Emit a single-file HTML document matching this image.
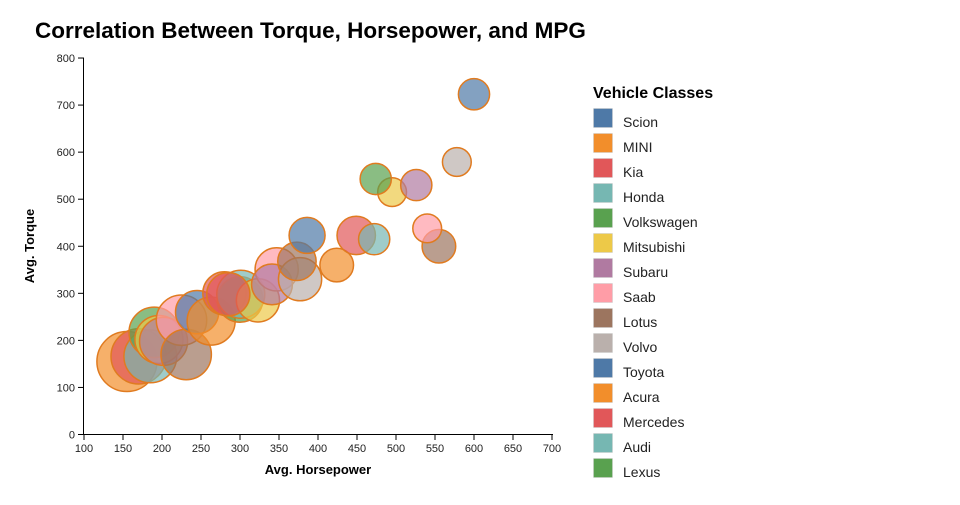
<!DOCTYPE html>
<html><head><meta charset="utf-8"><style>
body{margin:0;background:#fff;font-family:"Liberation Sans",sans-serif}
</style></head><body>
<svg id="c" width="960" height="500" xmlns="http://www.w3.org/2000/svg">
<text x="35" y="38" font-size="22.5" font-weight="bold" fill="#000">Correlation Between Torque, Horsepower, and MPG</text>
<g id="axes"></g><g id="pts"></g><g id="legend"></g>
</svg>
<script>
const hp=[155,170,185,190,196,202,225,231,245,263,280,300,301,323,347,341,377,373,386,424,449,472,555,540,495,474,526,578,600,285];
const tq=[155,166,166,217,202,198,243,170,260,241,300,287,298,285,351,319,330,368,423,360,423,415,400,438,515,543,530,579,723,298];
const mpg=[25,23,22,21,20,20,21,21,18,20,18,19,20,18,18,17,18,16,15,14,16,13,14,12,12,13,13,12,13,18];
const colIdx=[1,2,3,4,5,6,7,8,0,1,2,4,3,5,7,6,9,8,0,1,2,3,8,7,5,4,6,9,0,2];
const classes=["Scion","MINI","Kia","Honda","Volkswagen","Mitsubishi","Subaru","Saab","Lotus","Volvo","Toyota","Acura","Mercedes","Audi","Lexus"];
const palette=["#4e79a7","#f28e2b","#e15759","#76b7b2","#59a14f","#edc948","#b07aa1","#ff9da7","#9c755f","#bab0ac"];
const xTicks=[100,150,200,250,300,350,400,450,500,550,600,650,700];
const yTicks=[0,100,200,300,400,500,600,700,800];
const NS="http://www.w3.org/2000/svg";
const X=v=>84+(v-100)*0.78, Y=v=>434.5-v*0.4706, R=m=>m*1.2;
function mk(t,a,p){const e=document.createElementNS(NS,t);for(const k in a)e.setAttribute(k,a[k]);p.appendChild(e);return e;}
const ax=document.getElementById('axes');
let l=mk('line',{x1:83.5,y1:58,x2:83.5,y2:435,stroke:'#000'},ax);

l=mk('line',{x1:83.5,y1:434.5,x2:553,y2:434.5,stroke:'#000'},ax);

yTicks.forEach(v=>{mk('line',{x1:78,x2:84,y1:Y(v),y2:Y(v),stroke:'#000'},ax);
const t=mk('text',{x:75,y:Y(v)+4,'text-anchor':'end','font-size':11,fill:'#222'},ax);t.textContent=v;
});
xTicks.forEach(v=>{mk('line',{x1:X(v),x2:X(v),y1:434,y2:440,stroke:'#000'},ax);
const t=mk('text',{x:X(v),y:452,'text-anchor':'middle','font-size':11,fill:'#222'},ax);t.textContent=v;
});
let t=mk('text',{x:318,y:474,'text-anchor':'middle','font-size':13,'font-weight':'bold'},ax);t.textContent='Avg. Horsepower';

t=mk('text',{x:0,y:0,'text-anchor':'middle','font-size':13,'font-weight':'bold',transform:'translate(34,246) rotate(-90)'},ax);t.textContent='Avg. Torque';

const pg=document.getElementById('pts');
hp.forEach((h,i)=>{const c=mk('circle',{cx:X(h),cy:Y(tq[i]),r:R(mpg[i]),fill:palette[colIdx[i]],'fill-opacity':0.7,stroke:'#e07b20','stroke-width':1.5},pg);
});
const lg=document.getElementById('legend');
t=mk('text',{x:593,y:98,'font-size':16,'font-weight':'bold'},lg);t.textContent='Vehicle Classes';

classes.forEach((c,i)=>{const g=mk('g',{},lg);
mk('rect',{x:593.5,y:108.5+i*25,width:19,height:19,fill:palette[i%10],stroke:'#ccc','stroke-width':0.5},g);
const tx=mk('text',{x:623,y:127+i*25,'font-size':14,fill:'#222'},g);tx.textContent=c;});
</script>
</body></html>
